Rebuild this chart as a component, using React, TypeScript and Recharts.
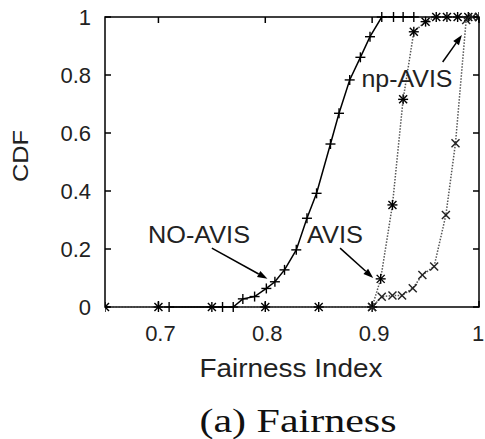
import React from "react";
import { LineChart, Line, XAxis, YAxis, ReferenceArea, ReferenceLine } from "recharts";

// NO-AVIS (+, solid)
const noAvisX = [0.71, 0.76, 0.77, 0.779, 0.79, 0.801, 0.809, 0.818, 0.829, 0.839, 0.848, 0.861, 0.869, 0.879, 0.889, 0.898, 0.909, 0.92, 0.929, 0.939];
const noAvisY = [0, 0, 0, 0.028, 0.036, 0.064, 0.087, 0.128, 0.197, 0.306, 0.392, 0.562, 0.668, 0.783, 0.861, 0.932, 1, 1, 1, 1];

// AVIS (*, dotted)
const avisX = [0.65, 0.7, 0.75, 0.8, 0.85, 0.9, 0.908, 0.919, 0.929, 0.939, 0.95, 0.96, 0.97, 0.98, 0.99, 1.0];
const avisY = [0, 0, 0, 0, 0, 0, 0.097, 0.352, 0.716, 0.949, 0.984, 1, 1, 1, 1, 1];

// np-AVIS (x, dotted)
const npAvisX = [0.9, 0.909, 0.919, 0.928, 0.938, 0.947, 0.958, 0.969, 0.978, 0.988, 0.994, 1.0];
const npAvisY = [0, 0.035, 0.04, 0.04, 0.065, 0.11, 0.14, 0.317, 0.565, 0.99, 1, 1];

const xTicks = [0.7, 0.8, 0.9, 1];
const yTicks = [0, 0.2, 0.4, 0.6, 0.8, 1];

const toRows = (xs: number[], ys: number[]) => xs.map((x, i) => ({ x, y: ys[i] }));
const noAvis = toRows(noAvisX, noAvisY);
const avis = toRows(avisX, avisY);
const npAvis = toRows(npAvisX, npAvisY);

const W = 485;
const H = 439;
const PL = 105;
const PR = 479;
const PT = 17;
const PB = 307;
const SANS = "'Liberation Sans', Arial, sans-serif";

const Plus = ({ cx, cy }: any) => (
  <g stroke="#000" strokeWidth={1.4}>
    <line x1={cx - 5} x2={cx + 5} y1={cy} y2={cy} />
    <line x1={cx} x2={cx} y1={cy - 5} y2={cy + 5} />
  </g>
);
const Cross = ({ cx, cy }: any) => (
  <g stroke="#222" strokeWidth={1.4}>
    <line x1={cx - 4} x2={cx + 4} y1={cy - 4} y2={cy + 4} />
    <line x1={cx - 4} x2={cx + 4} y1={cy + 4} y2={cy - 4} />
  </g>
);
const Star = ({ cx, cy }: any) => (
  <g stroke="#000" strokeWidth={1.4}>
    <line x1={cx - 5} x2={cx + 5} y1={cy} y2={cy} />
    <line x1={cx} x2={cx} y1={cy - 5} y2={cy + 5} />
    <line x1={cx - 4} x2={cx + 4} y1={cy - 4} y2={cy + 4} />
    <line x1={cx - 4} x2={cx + 4} y1={cy + 4} y2={cy - 4} />
  </g>
);

const XTick = (p: any) => {
  const c = p.payload.coordinate;
  const v = p.payload.value;
  return (
    <g>
      <line x1={c} x2={c} y1={PB} y2={PB - 6} stroke="#000" strokeWidth={1.5} />
      <line x1={c} x2={c} y1={PT} y2={PT + 6} stroke="#000" strokeWidth={1.5} />
      <text x={v === 1 ? c - 1 : c + 2} y={341} textAnchor="middle" fontSize={22} fontFamily={SANS} fill="#222">
        {String(v)}
      </text>
    </g>
  );
};

const YTick = (p: any) => {
  const c = p.payload.coordinate;
  return (
    <g>
      <line x1={PL} x2={PL + 6} y1={c} y2={c} stroke="#000" strokeWidth={1.5} />
      <line x1={PR} x2={PR - 6} y1={c} y2={c} stroke="#000" strokeWidth={1.5} />
      <text x={91} y={c} dy="0.36em" textAnchor="end" fontSize={22} fontFamily={SANS} fill="#222">
        {String(p.payload.value)}
      </text>
    </g>
  );
};

const Arrow = (p: any) => {
  const { x1, y1, x2, y2 } = p;
  const a = Math.atan2(y2 - y1, x2 - x1);
  const L = 10;
  const w = 3.5;
  const bx = x2 - L * Math.cos(a);
  const by = y2 - L * Math.sin(a);
  const px = -Math.sin(a) * w;
  const py = Math.cos(a) * w;
  return (
    <g>
      <line x1={x1} y1={y1} x2={bx} y2={by} stroke="#000" strokeWidth={1.5} />
      <polygon points={`${x2},${y2} ${bx + px},${by + py} ${bx - px},${by - py}`} fill="#000" />
    </g>
  );
};

export default function App() {
  return (
    <div style={{ position: "absolute", left: 0, top: 0, width: W, height: H, background: "#fff", overflow: "hidden" }}>
      <LineChart width={W} height={H} margin={{ top: PT, right: W - PR, bottom: 102, left: 0 }}>
        <XAxis
          type="number"
          dataKey="x"
          domain={[0.65, 1]}
          ticks={xTicks}
          allowDataOverflow
          axisLine={false}
          tickLine={false}
          tick={<XTick />}
          height={30}
        />
        <YAxis
          type="number"
          dataKey="y"
          domain={[0, 1]}
          ticks={yTicks}
          axisLine={false}
          tickLine={false}
          tick={<YTick />}
          width={PL}
        />
        <ReferenceArea x1={0.65} x2={1} y1={0} y2={1} fill="none" stroke="#000" strokeWidth={1.5} ifOverflow="visible" />
        <ReferenceLine segment={[{ x: 0.75, y: 0.203 }, { x: 0.802, y: 0.097 }]} shape={<Arrow />} />
        <ReferenceLine segment={[{ x: 0.87, y: 0.203 }, { x: 0.901, y: 0.1 }]} shape={<Arrow />} />
        <ReferenceLine segment={[{ x: 0.966, y: 0.845 }, { x: 0.984, y: 0.938 }]} shape={<Arrow />} />
        <Line
          data={avis}
          dataKey="y"
          stroke="#555"
          strokeWidth={1.5}
          strokeDasharray="1.5 1.5"
          dot={(p: any) => <Star key={p.index} {...p} />}
          isAnimationActive={false}
        />
        <Line
          data={npAvis}
          dataKey="y"
          stroke="#555"
          strokeWidth={1.5}
          strokeDasharray="1.5 1.5"
          dot={(p: any) => <Cross key={p.index} {...p} />}
          isAnimationActive={false}
        />
        <Line
          data={noAvis}
          dataKey="y"
          stroke="#000"
          strokeWidth={1.5}
          dot={(p: any) => <Plus key={p.index} {...p} />}
          isAnimationActive={false}
        />
      </LineChart>
      <svg width={W} height={H} style={{ position: "absolute", left: 0, top: 0, pointerEvents: "none" }}>
        <g fontFamily={SANS} fill="#222">
          <text x={20} y={156} transform="rotate(-90 20 156)" dy="0.36em" textAnchor="middle" fontSize={22} textLength={52} lengthAdjust="spacingAndGlyphs">
            CDF
          </text>
          <text x={291} y={377} textAnchor="middle" fontSize={25} textLength={183} lengthAdjust="spacingAndGlyphs">
            Fairness Index
          </text>
          <text x={199} y={243} textAnchor="middle" fontSize={23} textLength={102} lengthAdjust="spacingAndGlyphs">
            NO-AVIS
          </text>
          <text x={335} y={243} textAnchor="middle" fontSize={23} textLength={56} lengthAdjust="spacingAndGlyphs">
            AVIS
          </text>
          <text x={407} y={87} textAnchor="middle" fontSize={23} textLength={91} lengthAdjust="spacingAndGlyphs">
            np-AVIS
          </text>
        </g>
        <text x={298} y={432} textAnchor="middle" fontSize={33} fontFamily="'Liberation Serif', 'Times New Roman', serif" fill="#111" textLength={197} lengthAdjust="spacingAndGlyphs">
          (a) Fairness
        </text>
      </svg>
    </div>
  );
}
